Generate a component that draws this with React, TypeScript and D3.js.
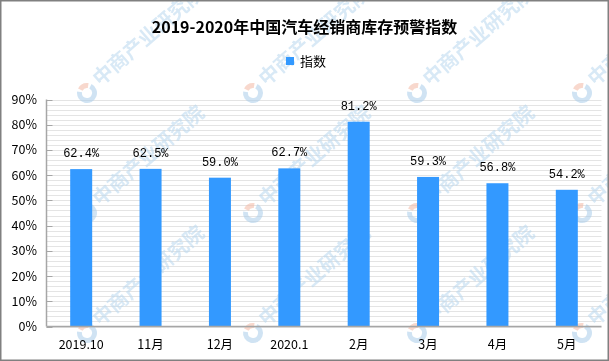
import React from "react";
import * as d3 from "d3";

const categories = ["2019.10", "11月", "12月", "2020.1", "2月", "3月", "4月", "5月"];
const values = [62.4, 62.5, 59.0, 62.7, 81.2, 59.3, 56.8, 54.2];
const yTicks = [0, 10, 20, 30, 40, 50, 60, 70, 80, 90];
const minorTicks = d3.range(0, 91, 2);
const title = "2019-2020年中国汽车经销商库存预警指数";
const seriesName = "指数";
const watermarkX = [87, 253, 417, 582];
const watermarkY = [93, 213, 333];

const W = 609;
const H = 361;
const left = 46.5;
const right = 601.5;
const top = 99.5;
const bottom = 326.5;
const barColor = "#3399ff";
const font = "'Noto Sans CJK SC', 'Noto Sans', sans-serif";

export default function App() {
  const x = d3.scaleBand<string>().domain(categories).range([left, right]).paddingInner(0.683).paddingOuter(0.3415);
  const y = d3.scaleLinear().domain([0, 90]).range([bottom, top]);

  const arcBlue = d3.arc()({ innerRadius: 5, outerRadius: 10, startAngle: Math.PI * 0.15, endAngle: Math.PI * 1.55 } as any) || "";
  const arcOrange = d3.arc()({ innerRadius: 5, outerRadius: 10, startAngle: Math.PI * 1.65, endAngle: Math.PI * 2.05 } as any) || "";

  return (
    <svg width={W} height={H} style={{ position: "absolute", left: 0, top: 0, background: "#fff" }} fontFamily={font}>
      <rect x={0} y={0} width={W} height={H} fill="#fff" />
      {/* minor gridlines */}
      {minorTicks.map((t) => (
        <line key={"g" + t} x1={left} x2={right} y1={Math.round(y(t)) + 0.5} y2={Math.round(y(t)) + 0.5} stroke="#e4e4e4" strokeWidth={1} />
      ))}
      {/* watermarks */}
      <g opacity={0.55}>
        {watermarkY.map((wy) =>
          watermarkX.map((wx) => (
            <g key={wx + "-" + wy} transform={`translate(${wx},${wy})`}>
              <path d={arcBlue} fill="#a9cdea" />
              <path d={arcOrange} fill="#f3b9a4" />
              <text transform="rotate(-41) translate(14,4)" fontSize={20} fontWeight="bold" fill="#b9d7ee">
                中商产业研究院
              </text>
            </g>
          ))
        )}
      </g>
      {/* bars */}
      {values.map((v, i) => (
        <rect key={"b" + i} x={x(categories[i])} y={y(v)} width={x.bandwidth()} height={y(0) - y(v)} fill={barColor} />
      ))}
      {/* value labels */}
      {values.map((v, i) => (
        <text key={"v" + i} x={(x(categories[i]) || 0) + x.bandwidth() / 2} y={y(v) - 12} textAnchor="middle" fontSize={12} fontFamily="'Liberation Mono', 'DejaVu Sans Mono', monospace" fill="#000">
          {v.toFixed(1) + "%"}
        </text>
      ))}
      {/* axes */}
      <line x1={left} x2={left} y1={top} y2={bottom} stroke="#a6a6a6" strokeWidth={1.5} />
      <line x1={left} x2={right} y1={bottom} y2={bottom} stroke="#a6a6a6" strokeWidth={1.5} />
      {yTicks.map((t) => (
        <g key={"t" + t}>
          <line x1={left} x2={left + 6} y1={Math.round(y(t)) + 0.5} y2={Math.round(y(t)) + 0.5} stroke="#a6a6a6" />
          <text x={37} y={y(t) + 4.5} textAnchor="end" fontSize={12.5} fill="#000">
            {t + "%"}
          </text>
        </g>
      ))}
      {categories.map((c) => (
        <text key={"x" + c} x={(x(c) || 0) + x.bandwidth() / 2} y={349} textAnchor="middle" fontSize={12.5} fill="#000">
          {c}
        </text>
      ))}
      {/* title */}
      <text x={304.5} y={33} textAnchor="middle" fontSize={16} fontWeight="bold" fill="#000">
        {title}
      </text>
      {/* legend */}
      <rect x={286} y={57} width={8} height={8} fill={barColor} />
      <text x={300} y={66} fontSize={13} fill="#000">
        {seriesName}
      </text>
      {/* border */}
      <rect x={0.75} y={0.75} width={W - 1.5} height={H - 1.5} fill="none" stroke="#808080" strokeWidth={1.5} />
    </svg>
  );
}
